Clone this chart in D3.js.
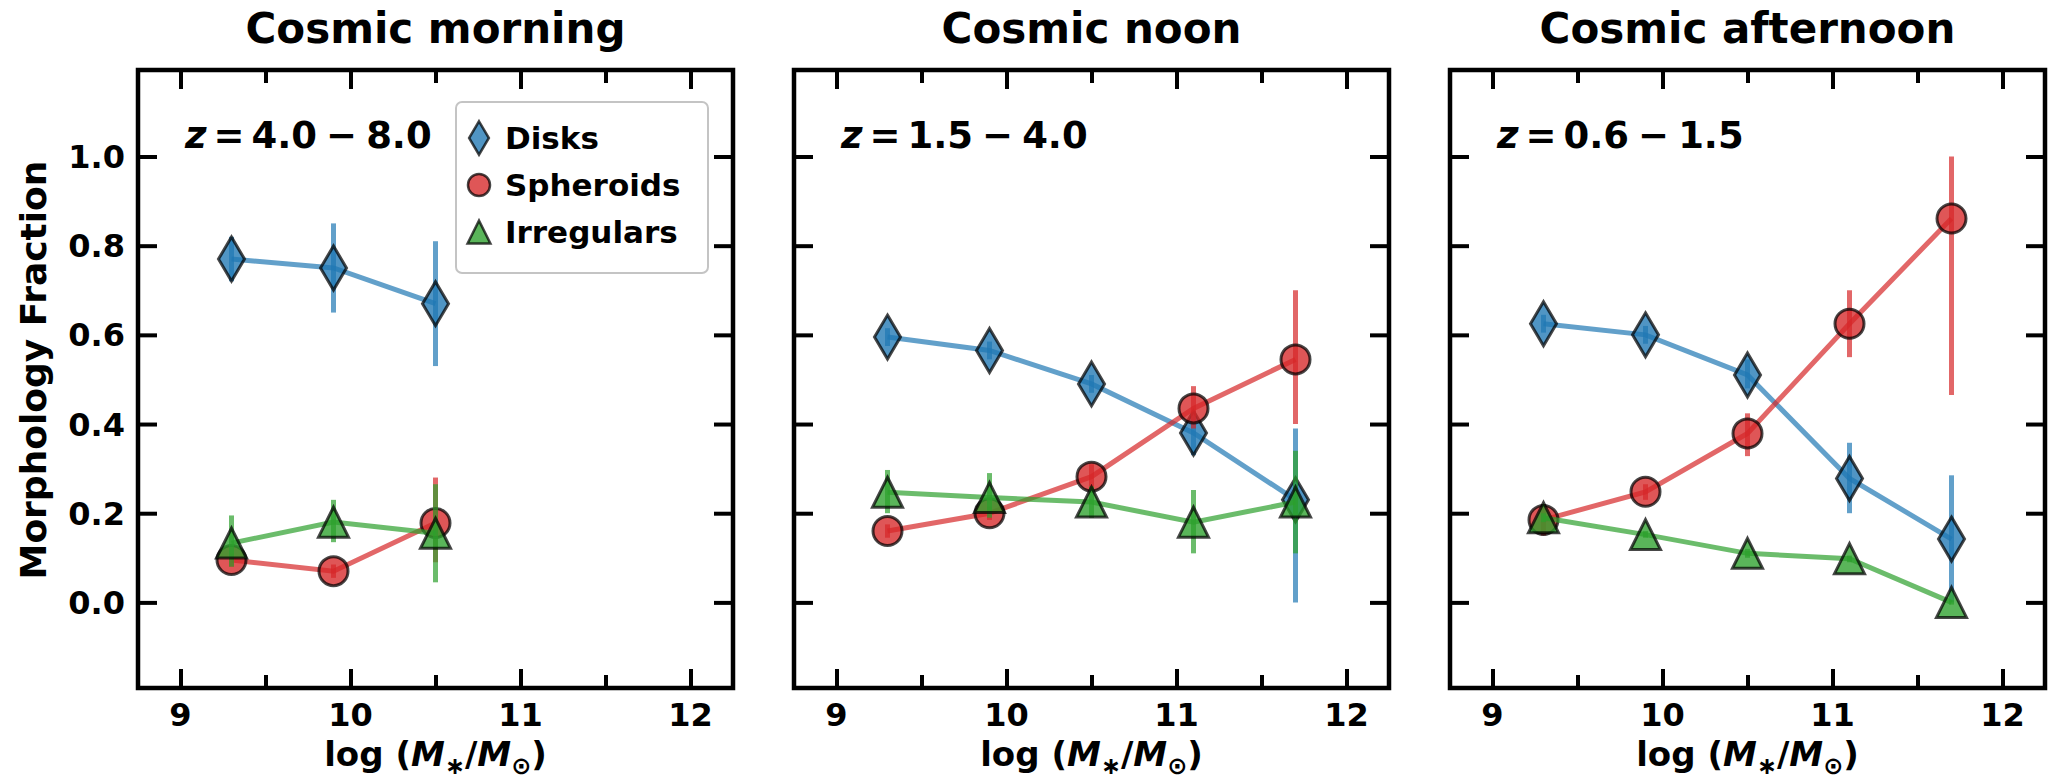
<!DOCTYPE html>
<html><head><meta charset="utf-8">
<script src="https://cdn.jsdelivr.net/npm/d3@7"></script>
<style>
html,body{margin:0;padding:0;background:#fff;}
svg text{font-family:"DejaVu Sans",sans-serif;font-weight:bold;fill:#000;}
</style></head>
<body><svg id="c" width="2048" height="780"></svg>
<script>
// ---------- data ----------
const panelTitles = ["Cosmic morning", "Cosmic noon", "Cosmic afternoon"];
const zLabels = ["4.0", "8.0", "1.5", "4.0", "0.6", "1.5"];
const seriesNames = ["Disks", "Spheroids", "Irregulars"];
const massBins = [9.3, 9.9, 10.5, 11.1, 11.7];
const xTicks = [9, 10, 11, 12];
const xMinorTicks = [9.5, 10.5, 11.5];
const yTicks = [0.0, 0.2, 0.4, 0.6, 0.8, 1.0];

// Cosmic morning (z = 4-8)
const morningDisks   = [0.77, 0.75, 0.67];
const morningDisksLo = [0.72, 0.65, 0.53];
const morningDisksHi = [0.82, 0.85, 0.81];
const morningSph     = [0.095, 0.07, 0.178];
const morningSphLo   = [0.08, 0.055, 0.09];
const morningSphHi   = [0.11, 0.085, 0.28];
const morningIrr     = [0.133, 0.18, 0.155];
const morningIrrLo   = [0.08, 0.135, 0.045];
const morningIrrHi   = [0.195, 0.23, 0.265];

// Cosmic noon (z = 1.5-4)
const noonDisks   = [0.595, 0.565, 0.49, 0.38, 0.23];
const noonDisksLo = [0.575, 0.545, 0.47, 0.33, 0.0];
const noonDisksHi = [0.615, 0.585, 0.51, 0.43, 0.39];
const noonSph     = [0.16, 0.2, 0.282, 0.435, 0.545];
const noonSphLo   = [0.145, 0.185, 0.255, 0.39, 0.40];
const noonSphHi   = [0.175, 0.215, 0.31, 0.485, 0.70];
const noonIrr     = [0.247, 0.235, 0.225, 0.18, 0.225];
const noonIrrLo   = [0.20, 0.19, 0.19, 0.11, 0.11];
const noonIrrHi   = [0.297, 0.29, 0.26, 0.252, 0.34];

// Cosmic afternoon (z = 0.6-1.5)
const afternoonDisks   = [0.625, 0.60, 0.51, 0.278, 0.142];
const afternoonDisksLo = [0.605, 0.58, 0.48, 0.20, 0.0];
const afternoonDisksHi = [0.645, 0.62, 0.545, 0.358, 0.285];
const afternoonSph     = [0.185, 0.248, 0.379, 0.625, 0.861];
const afternoonSphLo   = [0.15, 0.23, 0.328, 0.55, 0.465];
const afternoonSphHi   = [0.22, 0.265, 0.424, 0.70, 1.0];
const afternoonIrr     = [0.19, 0.152, 0.11, 0.098, 0.0];
const afternoonIrrLo   = [0.18, 0.145, 0.10, 0.09, -0.005];
const afternoonIrrHi   = [0.20, 0.16, 0.12, 0.105, 0.005];

// ---------- build ----------
const panels = [
  [[morningDisks, morningDisksLo, morningDisksHi],[morningSph, morningSphLo, morningSphHi],[morningIrr, morningIrrLo, morningIrrHi]],
  [[noonDisks, noonDisksLo, noonDisksHi],[noonSph, noonSphLo, noonSphHi],[noonIrr, noonIrrLo, noonIrrHi]],
  [[afternoonDisks, afternoonDisksLo, afternoonDisksHi],[afternoonSph, afternoonSphLo, afternoonSphHi],[afternoonIrr, afternoonIrrLo, afternoonIrrHi]]
];

const lineCol = ["rgba(31,119,180,0.7)", "rgba(214,39,40,0.7)", "rgba(44,160,44,0.7)"];
const fillCol = ["#1f77b4", "#d62728", "#2ca02c"];

const svg = d3.select("#c");
const panelLeft = [138, 794, 1450];
const panelW = 595, plotTop = 70, plotBottom = 688;
const y = d3.scaleLinear().domain([-0.192, 1.194]).range([plotBottom, plotTop]);

function markerPath(kind, s) {
  const p = d3.path();
  if (kind === 0) { // thin diamond
    const hw = 13*s, hh = 22*s;
    p.moveTo(0,-hh); p.lineTo(hw,0); p.lineTo(0,hh); p.lineTo(-hw,0); p.closePath();
  } else if (kind === 1) {
    const r = 14.5*s; p.moveTo(r,0); p.arc(0,0,r,0,2*Math.PI); p.closePath();
  } else {
    const h = 15*s;
    p.moveTo(0,-h); p.lineTo(h,h); p.lineTo(-h,h); p.closePath();
  }
  return p.toString();
}

panels.forEach((series, pi) => {
  const L = panelLeft[pi];
  const x = d3.scaleLinear().domain([8.75, 12.25]).range([L, L + panelW]);
  const g = svg.append("g");

  const mk = (ax, vals, len) => ax.tickValues(vals).tickSize(-len).tickFormat("");
  const axB = g.append("g").attr("transform", `translate(0,${plotBottom})`).call(mk(d3.axisBottom(x), xTicks, 19));
  const axB2 = g.append("g").attr("transform", `translate(0,${plotBottom})`).call(mk(d3.axisBottom(x), xMinorTicks, 13));
  const axT = g.append("g").attr("transform", `translate(0,${plotTop})`).call(mk(d3.axisTop(x), xTicks, 19));
  const axT2 = g.append("g").attr("transform", `translate(0,${plotTop})`).call(mk(d3.axisTop(x), xMinorTicks, 13));
  const axL = g.append("g").attr("transform", `translate(${L},0)`).call(mk(d3.axisLeft(y), yTicks, 19));
  const axR = g.append("g").attr("transform", `translate(${L+panelW},0)`).call(mk(d3.axisRight(y), yTicks, 19));
  [axB, axB2, axT, axT2, axL, axR].forEach(a => {
    a.select(".domain").remove();
    a.selectAll(".tick line").attr("stroke", "#000").attr("stroke-width", 4);
  });
  g.append("rect").attr("x", L).attr("y", plotTop).attr("width", panelW).attr("height", plotBottom - plotTop)
    .attr("fill", "none").attr("stroke", "#000").attr("stroke-width", 4.5);

  g.selectAll(".xl").data(xTicks).enter().append("text")
    .attr("x", d => x(d)).attr("y", 726).attr("text-anchor", "middle")
    .attr("font-size", 32).text(d => d);
  if (pi === 0) {
    g.selectAll(".yl").data(yTicks).enter().append("text")
      .attr("x", 125).attr("y", d => y(d) + 11.5).attr("text-anchor", "end")
      .attr("font-size", 32).text(d => d.toFixed(1));
  }

  g.append("text").attr("x", L + panelW/2).attr("y", 43).attr("text-anchor", "middle")
    .attr("font-size", 42).text(panelTitles[pi]);

  const xl = g.append("text").attr("x", L + panelW/2).attr("y", 766).attr("text-anchor", "middle").attr("font-size", 34);
  xl.append("tspan").text("log (");
  xl.append("tspan").attr("font-style", "italic").text("M");
  xl.append("tspan").attr("font-size", 24).attr("dy", 8).text("\u2217");
  xl.append("tspan").attr("dy", -8).text("/");
  xl.append("tspan").attr("font-style", "italic").text("M");
  xl.append("tspan").attr("font-size", 24).attr("dy", 8).text("\u2299");
  xl.append("tspan").attr("dy", -8).text(")");

  const zl = g.append("text").attr("x", L + 47).attr("y", 148).attr("font-size", 37);
  zl.append("tspan").attr("font-style", "italic").text("z");
  zl.append("tspan").attr("dx", 7).text("=");
  zl.append("tspan").attr("dx", 7).text(zLabels[2*pi]);
  zl.append("tspan").attr("dx", 9).text("\u2212");
  zl.append("tspan").attr("dx", 9).text(zLabels[2*pi+1]);

  const plot = g.append("g");
  series.forEach((s, si) => {
    const [vals, lo, hi] = s;
    const pts = vals.map((v, i) => ({x: massBins[i], y: v, lo: lo[i], hi: hi[i]}));
    const sg = plot.append("g");
    sg.append("path").datum(pts)
      .attr("d", d3.line().x(d => x(d.x)).y(d => y(d.y)))
      .attr("fill", "none").attr("stroke", lineCol[si]).attr("stroke-width", 5);
    sg.selectAll(".eb").data(pts).enter().append("line")
      .attr("x1", d => x(d.x)).attr("x2", d => x(d.x))
      .attr("y1", d => y(d.lo)).attr("y2", d => y(d.hi))
      .attr("stroke", lineCol[si]).attr("stroke-width", 5);
    sg.selectAll(".mk").data(pts).enter().append("path")
      .attr("transform", d => `translate(${x(d.x)},${y(d.y)})`)
      .attr("d", markerPath(si, 1))
      .attr("fill", fillCol[si]).attr("fill-opacity", 0.78)
      .attr("stroke", "#000").attr("stroke-opacity", 0.72).attr("stroke-width", 3);
  });

  if (pi === 0) {
    const lg = g.append("g");
    lg.append("rect").attr("x", 456).attr("y", 102).attr("width", 252).attr("height", 171)
      .attr("rx", 6).attr("fill", "rgba(255,255,255,0.8)").attr("stroke", "#c4c4c4").attr("stroke-width", 2);
    const rows = [138, 185, 232];
    seriesNames.forEach((nm, si) => {
      lg.append("path").attr("transform", `translate(479,${rows[si]})`)
        .attr("d", markerPath(si, 0.76))
        .attr("fill", fillCol[si]).attr("fill-opacity", 0.78)
        .attr("stroke", "#000").attr("stroke-opacity", 0.72).attr("stroke-width", 2.5);
      lg.append("text").attr("x", 505).attr("y", rows[si] + 11).attr("font-size", 31).text(nm);
    });
  }
});

svg.append("text").attr("transform", "translate(46,370) rotate(-90)")
  .attr("text-anchor", "middle").attr("font-size", 36).text("Morphology Fraction");
</script></body></html>
